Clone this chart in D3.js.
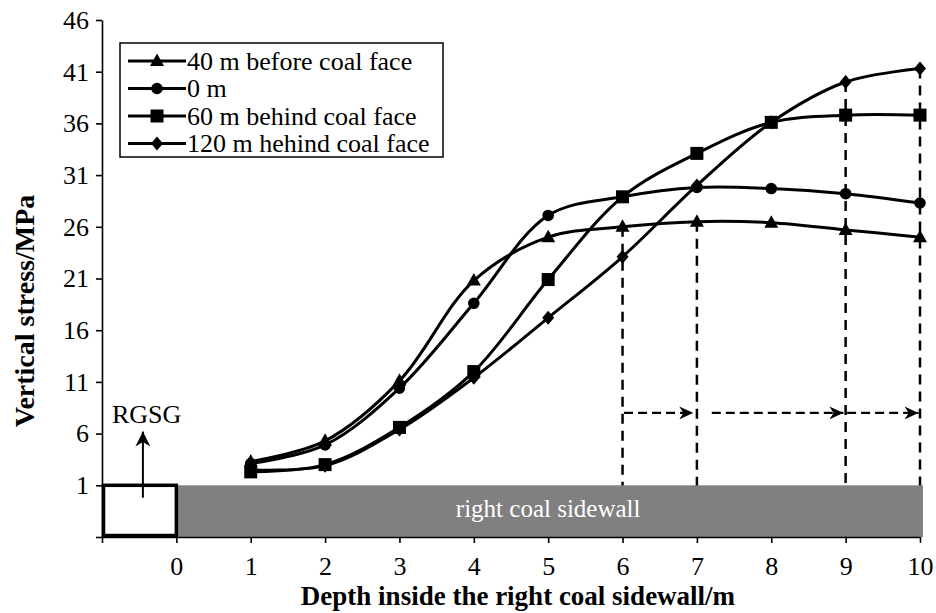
<!DOCTYPE html>
<html>
<head>
<meta charset="utf-8">
<script src="https://cdn.jsdelivr.net/npm/d3@7/dist/d3.min.js"></script>
<style>
  html, body { margin: 0; padding: 0; background: #fff; }
  svg { display: block; font-family: "Liberation Serif", "Times New Roman", serif; }
</style>
</head>
<body>
<svg id="chart" width="936" height="613"></svg>
<script>
// Depth positions (m) and vertical stress (MPa) for each face position
const depths = [1, 2, 3, 4, 5, 6, 7, 8, 9, 10];
const seriesNames = ["40 m before coal face", "0 m", "60 m behind coal face", "120 m hehind coal face"];
const seriesMarkers = ["triangle", "circle", "square", "diamond"];
const stressBefore40 = [3.3, 5.3, 11.1, 20.8, 25.0, 26.0, 26.5, 26.4, 25.7, 25.0];
const stressAt0 = [3.1, 4.9, 10.4, 18.6, 27.1, 28.9, 29.8, 29.7, 29.2, 28.3];
const stressBehind60 = [2.3, 3.0, 6.6, 12.0, 20.9, 28.9, 33.1, 36.1, 36.8, 36.8];
const stressBehind120 = [2.5, 2.9, 6.4, 11.4, 17.2, 23.1, 30.0, 36.1, 40.0, 41.3];

// Axis ticks
const yTicks = [-4, 1, 6, 11, 16, 21, 26, 31, 36, 41, 46];
const xTicks = [-1, 0, 1, 2, 3, 4, 5, 6, 7, 8, 9, 10];

// Dashed guides: depth and the series whose point they drop from
const guideDepths = [6, 7, 9, 10];
const guideSeries = [0, 0, 3, 3];
// Horizontal dashed arrows at stress level 8 MPa: [from, to] depth
const arrowLevel = 8;
const arrowSpans = [[6.02, 6.95], [7.2, 8.97], [9.02, 9.98]];

// Annotation blocks
const sidewallSpan = [0, 10.04];
const gobSpan = [-1, 0];
const blockRange = [-4, 1];

const seriesValues = [stressBefore40, stressAt0, stressBehind60, stressBehind120];

const svg = d3.select("#chart");
const x = d3.scaleLinear().domain([-1, 10]).range([102, 920]);
const y = d3.scaleLinear().domain([-4, 46]).range([537, 20]);

const defs = svg.append("defs");
function addHead(id, len, wid) {
  defs.append("marker")
    .attr("id", id)
    .attr("viewBox", `0 0 ${len} ${wid}`)
    .attr("refX", len).attr("refY", wid / 2)
    .attr("markerWidth", len).attr("markerHeight", wid)
    .attr("markerUnits", "userSpaceOnUse")
    .attr("orient", "auto")
    .append("path")
    .attr("d", `M0,0 L${len},${wid / 2} L0,${wid} L${len * 0.3},${wid / 2} Z`)
    .attr("fill", "#000");
}
addHead("head", 14, 13);
addHead("headUp", 15, 15);

// Vertical dashed guides (drawn under the sidewall block)
svg.append("g").selectAll("line")
  .data(guideDepths.map((d, i) => ({ d, v: seriesValues[guideSeries[i]][depths.indexOf(d)] })))
  .join("line")
  .attr("x1", g => x(g.d)).attr("x2", g => x(g.d))
  .attr("y1", g => y(g.v)).attr("y2", y(-4))
  .attr("stroke", "#000").attr("stroke-width", 2.5)
  .attr("stroke-dasharray", "10,7");

// Horizontal dashed arrows
svg.append("g").selectAll("line")
  .data(arrowSpans)
  .join("line")
  .attr("x1", s => x(s[0])).attr("x2", s => x(s[1]))
  .attr("y1", y(arrowLevel)).attr("y2", y(arrowLevel))
  .attr("stroke", "#000").attr("stroke-width", 2.2)
  .attr("stroke-dasharray", "9,5")
  .attr("marker-end", "url(#head)");

// Right coal sidewall block
svg.append("rect")
  .attr("x", x(sidewallSpan[0])).attr("y", y(blockRange[1]))
  .attr("width", x(sidewallSpan[1]) - x(sidewallSpan[0]))
  .attr("height", y(blockRange[0]) - y(blockRange[1]))
  .attr("fill", "#808080");
svg.append("text")
  .attr("x", x(5)).attr("y", 517)
  .attr("text-anchor", "middle")
  .attr("font-size", 25).attr("fill", "#fff")
  .text("right coal sidewall");

// Axes
const yAxis = d3.axisLeft(y).tickValues(yTicks)
  .tickFormat(d => d === -4 ? "" : d).tickSize(6).tickSizeOuter(0).tickPadding(7);
const xAxis = d3.axisBottom(x).tickValues(xTicks)
  .tickFormat(d => d === -1 ? "" : d).tickSize(6).tickSizeOuter(0).tickPadding(14);

const gy = svg.append("g").attr("transform", `translate(${x(-1)},0)`).call(yAxis);
const gx = svg.append("g").attr("transform", `translate(0,${y(-4)})`).call(xAxis);
[gx, gy].forEach(g => {
  g.selectAll("path,line").attr("stroke", "#000").attr("stroke-width", 1.6);
  g.selectAll("text").attr("font-size", 26).attr("fill", "#000")
    .attr("font-family", "Liberation Serif, Times New Roman, serif");
});

// Gob-side block (RGSG) with upward arrow
svg.append("rect")
  .attr("x", x(gobSpan[0]) + 1.5).attr("y", y(blockRange[1]))
  .attr("width", x(gobSpan[1]) - x(gobSpan[0]) - 1.5)
  .attr("height", y(blockRange[0]) - y(blockRange[1]) - 1.5)
  .attr("fill", "#fff").attr("stroke", "#000").attr("stroke-width", 3.5);
svg.append("line")
  .attr("x1", x(-0.45)).attr("x2", x(-0.45))
  .attr("y1", y(-0.2)).attr("y2", y(6.2))
  .attr("stroke", "#000").attr("stroke-width", 2)
  .attr("marker-end", "url(#headUp)");
svg.append("text")
  .attr("x", x(-0.4)).attr("y", 423)
  .attr("text-anchor", "middle").attr("font-size", 26)
  .text("RGSG");

// Series lines and markers
const line = d3.line()
  .x((d, i) => x(depths[i]))
  .y(d => y(d))
  .curve(d3.curveCatmullRom.alpha(0.5));

function markerPath(type) {
  switch (type) {
    case "triangle": return "M0,-7.5 L7,5 L-7,5 Z";
    case "circle": return d3.symbol(d3.symbolCircle, 105)();
    case "square": return "M-6.5,-6.5 H6.5 V6.5 H-6.5 Z";
    case "diamond": return "M0,-7 L6,0 L0,7 L-6,0 Z";
  }
}

const plot = svg.append("g");
seriesValues.forEach((vals, s) => {
  plot.append("path")
    .attr("d", line(vals))
    .attr("fill", "none").attr("stroke", "#000").attr("stroke-width", 3);
  plot.append("g").selectAll("path")
    .data(vals)
    .join("path")
    .attr("transform", (d, i) => `translate(${x(depths[i])},${y(d)})`)
    .attr("d", markerPath(seriesMarkers[s]))
    .attr("fill", "#000");
});

// Legend
const legend = svg.append("g");
legend.append("rect")
  .attr("x", 120).attr("y", 43).attr("width", 323).attr("height", 114)
  .attr("fill", "#fff").attr("stroke", "#000").attr("stroke-width", 1.5);
seriesNames.forEach((name, i) => {
  const ly = 61 + i * 27.5;
  legend.append("line")
    .attr("x1", 128).attr("x2", 186).attr("y1", ly).attr("y2", ly)
    .attr("stroke", "#000").attr("stroke-width", 3);
  legend.append("path")
    .attr("transform", `translate(157,${ly})`)
    .attr("d", markerPath(seriesMarkers[i]))
    .attr("fill", "#000");
  legend.append("text")
    .attr("x", 187).attr("y", ly + 8.5)
    .attr("font-size", 26).text(name);
});

// Axis titles
svg.append("text")
  .attr("x", 518).attr("y", 605)
  .attr("text-anchor", "middle").attr("font-size", 27).attr("font-weight", "bold")
  .text("Depth inside the right coal sidewall/m");
svg.append("text")
  .attr("transform", "translate(34,311) rotate(-90)")
  .attr("text-anchor", "middle").attr("font-size", 28).attr("font-weight", "bold")
  .text("Vertical stress/MPa");
</script>
</body>
</html>
